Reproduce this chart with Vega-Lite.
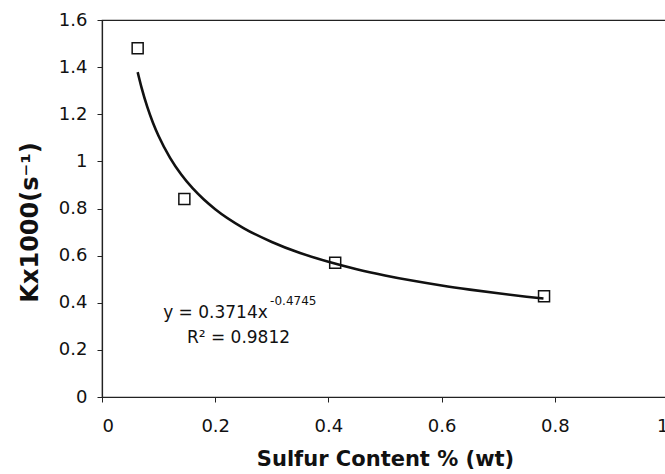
{
  "$schema": "https://vega.github.io/schema/vega-lite/v6.json",
  "autosize": {"type": "none"},
  "padding": {"left": 102, "top": 20, "right": 0, "bottom": 77},
  "width": 566,
  "height": 377,
  "background": "white",
  "config": {
    "view": {"stroke": "#222", "strokeWidth": 1.2},
    "font": "DejaVu Sans",
    "axis": {
      "grid": false,
      "domainColor": "#222",
      "domainWidth": 1.2,
      "tickColor": "#222",
      "tickSize": 5,
      "labelFont": "DejaVu Sans",
      "labelFontSize": 18,
      "labelColor": "#111",
      "titleFont": "DejaVu Sans",
      "titleFontWeight": "bold",
      "titleColor": "#111"
    }
  },
  "datasets": {
    "points": [
      {"s": 0.063, "k": 1.48},
      {"s": 0.1455, "k": 0.84},
      {"s": 0.412, "k": 0.57},
      {"s": 0.781, "k": 0.428}
    ],
    "curve": [
      {"s": 0.063, "k": 1.379},
      {"s": 0.07, "k": 1.312},
      {"s": 0.08, "k": 1.231},
      {"s": 0.09, "k": 1.164},
      {"s": 0.1, "k": 1.1075},
      {"s": 0.12, "k": 1.016},
      {"s": 0.14, "k": 0.944},
      {"s": 0.16, "k": 0.886},
      {"s": 0.18, "k": 0.838},
      {"s": 0.2, "k": 0.797},
      {"s": 0.25, "k": 0.717},
      {"s": 0.3, "k": 0.658},
      {"s": 0.35, "k": 0.611},
      {"s": 0.4, "k": 0.574},
      {"s": 0.45, "k": 0.5425},
      {"s": 0.5, "k": 0.516},
      {"s": 0.55, "k": 0.493},
      {"s": 0.6, "k": 0.473},
      {"s": 0.65, "k": 0.4556},
      {"s": 0.7, "k": 0.44},
      {"s": 0.75, "k": 0.4257},
      {"s": 0.78, "k": 0.4179}
    ],
    "notes": [
      {"s": 0.108, "k": 0.334, "label": "y = 0.3714x", "role": "main"},
      {"s": 0.150, "k": 0.228, "label": "R² = 0.9812", "role": "main"},
      {"s": 0.297, "k": 0.39, "label": "-0.4745", "role": "sup"}
    ]
  },
  "encoding": {
    "x": {
      "field": "s",
      "type": "quantitative",
      "scale": {"domain": [0, 1], "nice": false},
      "axis": {
        "values": [0, 0.2, 0.4, 0.6, 0.8, 1],
        "format": "~g",
        "labelPadding": 15,
        "title": "Sulfur Content % (wt)",
        "titleFontSize": 21,
        "titlePadding": 13
      }
    },
    "y": {
      "field": "k",
      "type": "quantitative",
      "scale": {"domain": [0, 1.6], "nice": false},
      "axis": {
        "values": [0, 0.2, 0.4, 0.6, 0.8, 1, 1.2, 1.4, 1.6],
        "format": "~g",
        "labelPadding": 10,
        "title": "Kx1000(s⁻¹)",
        "titleFontSize": 24,
        "titlePadding": 16,
        "titleY": 202
      }
    }
  },
  "layer": [
    {
      "data": {"name": "curve"},
      "mark": {"type": "line", "color": "#111", "strokeWidth": 2.6, "interpolate": "monotone"}
    },
    {
      "data": {"name": "points"},
      "mark": {"type": "point", "shape": "square", "filled": false, "stroke": "#111", "strokeWidth": 1.5, "size": 121, "opacity": 1}
    },
    {
      "data": {"name": "notes"},
      "transform": [{"filter": "datum.role === 'main'"}],
      "mark": {"type": "text", "align": "left", "baseline": "alphabetic", "fontSize": 17, "color": "#111", "font": "DejaVu Sans"},
      "encoding": {"text": {"field": "label"}}
    },
    {
      "data": {"name": "notes"},
      "transform": [{"filter": "datum.role === 'sup'"}],
      "mark": {"type": "text", "align": "left", "baseline": "alphabetic", "fontSize": 12, "color": "#111", "font": "DejaVu Sans"},
      "encoding": {"text": {"field": "label"}}
    }
  ]
}
